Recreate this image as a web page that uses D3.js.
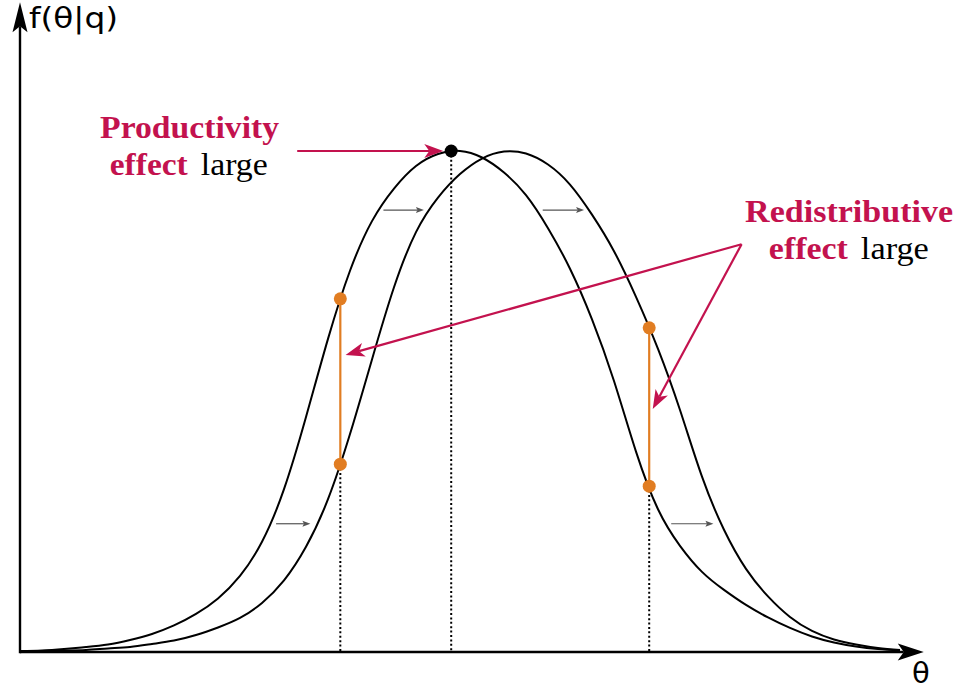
<!DOCTYPE html>
<html>
<head>
<meta charset="utf-8">
<script src="https://cdn.jsdelivr.net/npm/d3@7"></script>
<style>
  html, body { margin: 0; padding: 0; background: #ffffff; }
  svg { display: block; }
</style>
</head>
<body>
<div id="chart"></div>
<script>
// ---------- data ----------
// θ positions at which both curves were read
const theta = [0, 0.25, 0.5, 0.75, 1, 1.25, 1.5, 1.75, 2, 2.25,
               2.5, 2.75, 3, 3.25, 3.5, 3.75, 4, 4.25, 4.5, 4.75,
               5, 5.25, 5.5, 5.75, 6, 6.25, 6.5, 6.75, 7, 7.25,
               7.5, 7.75, 8, 8.25, 8.5, 8.75, 9, 9.25, 9.5, 9.75, 10];
// original distribution f(θ|q)
const densA = [0.002, 0.003, 0.006, 0.010, 0.015, 0.024, 0.036, 0.053, 0.076, 0.107,
               0.152, 0.220, 0.325, 0.469, 0.625, 0.761, 0.860, 0.925, 0.970, 0.994,
               1.000, 0.987, 0.957, 0.912, 0.846, 0.765, 0.664, 0.541, 0.400, 0.285,
               0.212, 0.160, 0.124, 0.094, 0.069, 0.048, 0.031, 0.019, 0.011, 0.006, 0.003];
// shifted distribution
const densB = [0.001, 0.002, 0.003, 0.004, 0.007, 0.010, 0.016, 0.023, 0.034, 0.049,
               0.068, 0.098, 0.143, 0.210, 0.305, 0.435, 0.584, 0.728, 0.838, 0.907,
               0.954, 0.985, 0.999, 0.995, 0.973, 0.933, 0.873, 0.800, 0.709, 0.605,
               0.483, 0.350, 0.244, 0.166, 0.111, 0.070, 0.042, 0.025, 0.015, 0.008, 0.004];

// peak marker and guide lines
const peakPoint = [4.90, 1.0];
const guideTheta = [3.64, 4.90, 7.15];
const guideTop   = [0.375, 1.0, 0.331];

// redistributive segments (θ, lower f, upper f)
const segTheta = [3.64, 7.15];
const segLow   = [0.375, 0.331];
const segHigh  = [0.705, 0.647];

// small shift arrows: θ start, θ end, f level
const shiftFrom  = [4.13, 5.94, 2.91, 7.40];
const shiftTo    = [4.59, 6.41, 3.30, 7.88];
const shiftLevel = [0.882, 0.882, 0.256, 0.256];

// annotation arrows: start (θ,f) → tip (θ,f)
const annFrom = [[3.15, 1.0], [8.20, 0.814], [8.20, 0.814]];
const annTo   = [[4.81, 1.0], [3.70, 0.593], [7.19, 0.485]];

// annotation texts
const annLines = [
  {parts: [{t: "Productivity", bold: true, len: 179}], th: 0.91, f: 1.026},
  {parts: [{t: "effect", bold: true, len: 78}, {t: "large", bold: false, len: 67, gap: 13}], th: 1.02, f: 0.952},
  {parts: [{t: "Redistributive", bold: true, len: 208}], th: 8.24, f: 0.858},
  {parts: [{t: "effect", bold: true, len: 79}, {t: "large", bold: false, len: 68, gap: 13}], th: 8.51, f: 0.784}
];

const axisXMax = 10.27;
const axisYMax = 1.297;
const xLabel = "θ";
const yLabel = "f(θ|q)";

// ---------- drawing ----------
const W = 958, H = 690;
const crimson = "#c3124e";
const orange = "#e17d22";

const svg = d3.select("#chart").append("svg")
  .attr("width", W).attr("height", H)
  .attr("viewBox", `0 0 ${W} ${H}`);

const x = d3.scaleLinear().domain([0, 10]).range([20, 900]);
const y = d3.scaleLinear().domain([0, 1]).range([652, 151]);

function stealth(g, tx, ty, ang, L, Wd, notch, color) {
  const dx = Math.cos(ang), dy = Math.sin(ang);
  const px = -dy, py = dx;
  const bx = tx - L * dx, by = ty - L * dy;
  const nx = tx - (L - notch) * dx, ny = ty - (L - notch) * dy;
  const pts = [[tx, ty], [bx + Wd * px, by + Wd * py], [nx, ny], [bx - Wd * px, by - Wd * py]];
  g.append("path").attr("d", "M" + pts.map(p => p.join(",")).join("L") + "Z")
    .attr("fill", color).attr("stroke", "none");
}

function arrow(g, x0, y0, x1, y1, opts) {
  const ang = Math.atan2(y1 - y0, x1 - x0);
  const L = opts.L, notch = opts.notch;
  const ex = x1 - (L - notch) * Math.cos(ang), ey = y1 - (L - notch) * Math.sin(ang);
  g.append("line").attr("x1", x0).attr("y1", y0).attr("x2", ex).attr("y2", ey)
    .attr("stroke", opts.color).attr("stroke-width", opts.sw);
  stealth(g, x1, y1, ang, L, opts.W, notch, opts.color);
}

// guide dotted lines
const gGuide = svg.append("g");
guideTheta.forEach((t, i) => {
  gGuide.append("line")
    .attr("x1", x(t)).attr("x2", x(t))
    .attr("y1", y(guideTop[i])).attr("y2", y(0))
    .attr("stroke", "#000").attr("stroke-width", 2)
    .attr("stroke-dasharray", "2,2.4");
});

// curves
const line = d3.line().x(d => x(d[0])).y(d => y(d[1])).curve(d3.curveNatural);
const dataA = theta.map((t, i) => [t, densA[i]]);
const dataB = theta.map((t, i) => [t, densB[i]]);
svg.append("path").datum(dataA).attr("d", line)
  .attr("fill", "none").attr("stroke", "#000").attr("stroke-width", 2);
svg.append("path").datum(dataB).attr("d", line)
  .attr("fill", "none").attr("stroke", "#000").attr("stroke-width", 2);

// axes
const gAxis = svg.append("g");
arrow(gAxis, x(0), y(0), x(axisXMax), y(0), {L: 26, W: 8.5, notch: 6, color: "#000", sw: 2.4});
arrow(gAxis, x(0), y(0) + 1.2, x(0), y(axisYMax), {L: 30, W: 7.5, notch: 6, color: "#000", sw: 2.4});
gAxis.append("text").attr("x", x(axisXMax) - 3).attr("y", 683)
  .attr("text-anchor", "middle")
  .attr("font-family", "'DejaVu Sans', sans-serif").attr("font-size", 29)
  .text(xLabel);
gAxis.append("text").attr("x", x(0) + 9).attr("y", 28)
  .attr("font-family", "'DejaVu Sans', sans-serif").attr("font-size", 29)
  .attr("textLength", 89).attr("lengthAdjust", "spacingAndGlyphs")
  .text(yLabel);

// shift arrows
const gShift = svg.append("g");
shiftFrom.forEach((t, i) => {
  arrow(gShift, x(t), y(shiftLevel[i]), x(shiftTo[i]), y(shiftLevel[i]),
    {L: 8, W: 3, notch: 1.5, color: "#555", sw: 1.2});
});

// orange segments
const gSeg = svg.append("g");
segTheta.forEach((t, i) => {
  gSeg.append("line").attr("x1", x(t)).attr("x2", x(t))
    .attr("y1", y(segLow[i])).attr("y2", y(segHigh[i]))
    .attr("stroke", orange).attr("stroke-width", 2.2);
  [segLow[i], segHigh[i]].forEach(v => {
    gSeg.append("circle").attr("cx", x(t)).attr("cy", y(v)).attr("r", 6.5).attr("fill", orange);
  });
});

// peak dot
svg.append("circle").attr("cx", x(peakPoint[0])).attr("cy", y(peakPoint[1]))
  .attr("r", 6.5).attr("fill", "#000");

// annotation arrows
const gAnn = svg.append("g");
annFrom.forEach((s, i) => {
  const e = annTo[i];
  arrow(gAnn, x(s[0]), y(s[1]), x(e[0]), y(e[1]), {L: 19, W: 7, notch: 5, color: crimson, sw: 2.2});
});

// annotation texts
const gTxt = svg.append("g").attr("font-family", "'Liberation Serif', 'Times New Roman', serif").attr("font-size", 31);
annLines.forEach(ln => {
  let cx = x(ln.th);
  ln.parts.forEach(p => {
    if (p.gap) cx += p.gap;
    gTxt.append("text")
      .attr("x", cx).attr("y", y(ln.f))
      .attr("fill", p.bold ? crimson : "#000")
      .attr("font-weight", p.bold ? "bold" : "normal")
      .attr("textLength", p.len).attr("lengthAdjust", "spacingAndGlyphs")
      .text(p.t);
    cx += p.len;
  });
});
</script>
</body>
</html>
